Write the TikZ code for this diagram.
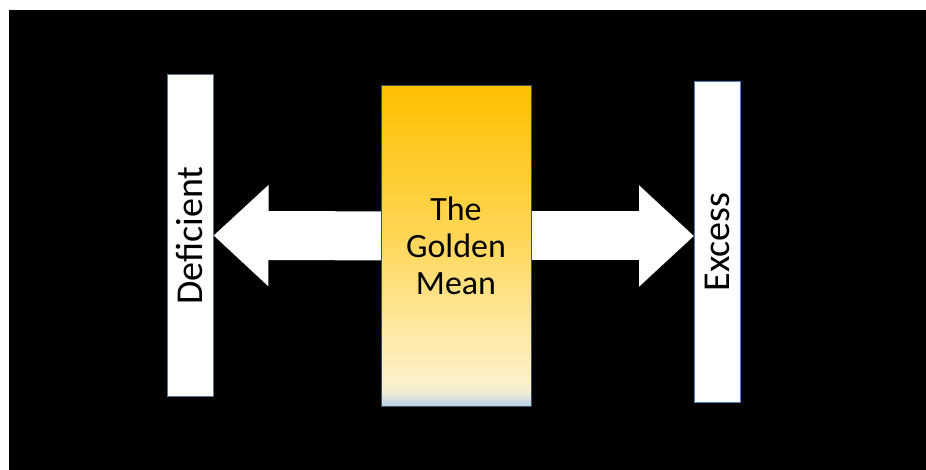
\documentclass[tikz,border=0pt]{standalone}
\usepackage{fontspec}
\setmainfont{Carlito}
\usepackage{graphicx}
\usetikzlibrary{arrows.meta}
\definecolor{BarEdge}{RGB}{90, 115, 140}
\definecolor{BarEdgeBlue}{RGB}{79, 129, 189}
\definecolor{MeanEdge}{RGB}{60, 80, 96}
\definecolor{MeanBlue}{RGB}{190, 212, 230}
\definecolor{MeanPale}{RGB}{238, 236, 215}
\definecolor{MeanCream}{RGB}{252, 240, 200}
\definecolor{MeanLight}{RGB}{255, 232, 160}
\definecolor{MeanMid}{RGB}{255, 214, 85}
\definecolor{MeanGold}{RGB}{255, 192, 0}
\pgfdeclareverticalshading{goldmean}{100bp}{
    color(0bp)=(MeanBlue);
    color(25.3bp)=(MeanBlue);
    color(27bp)=(MeanPale);
    color(29bp)=(MeanCream);
    color(37.5bp)=(MeanLight);
    color(51.5bp)=(MeanMid);
    color(75bp)=(MeanGold);
    color(100bp)=(MeanGold)
}
\tikzset{
    barbox/.style={
        rectangle, draw=BarEdge, fill=white, line width=1pt,
        minimum width=46pt, inner sep=0pt, font=\fontsize{38}{40}\selectfont
    },
    meanbox/.style={
        rectangle, draw=MeanEdge, line width=1pt, shading=goldmean,
        minimum width=150pt, minimum height=320pt, align=center,
        font=\fontsize{34}{37}\selectfont
    },
    fatarrow/.style={white, line width=49pt, -{Triangle[length=55pt, width=98pt]}},
}

\begin{document}
\begin{tikzpicture}[x=1pt, y=-1pt]
                % Background
                \fill[white] (0, 0) rectangle (926, 470);
                \fill[black] (9, 10) rectangle (926, 470);
                \useasboundingbox (0, 0) rectangle (926, 470);

                % Bars
                \node[barbox, minimum height=321pt] (deficient) at (190, 235.5) {\rotatebox{90}{Deficient}};
                \node[barbox, draw=BarEdgeBlue, minimum height=320pt] (excess) at (717.5, 242) {\rotatebox{90}{Excess}};

                % Arrows
                \coordinate (mid) at (456, 236);
                \draw[fatarrow] (mid) -- (deficient.east);
                \draw[fatarrow] (mid) -- (excess.west |- mid);

                % Mean
                \node[meanbox] (mean) at (456, 246) {The\\Golden\\Mean};
            \end{tikzpicture}
\end{document}
